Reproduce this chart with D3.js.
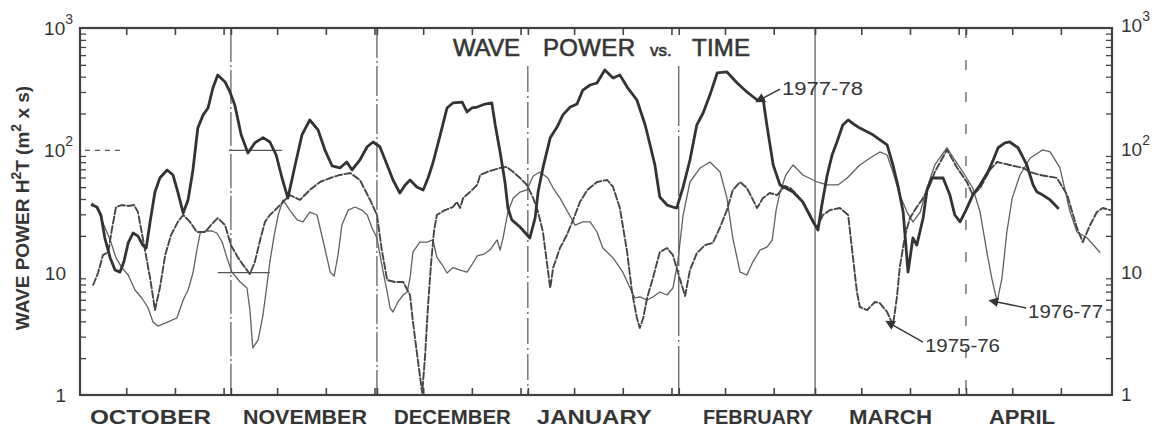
<!DOCTYPE html>
<html>
<head>
<meta charset="utf-8">
<script src="https://cdn.jsdelivr.net/npm/d3@7"></script>
<style>
  html, body { margin: 0; padding: 0; background: #fff; }
  svg { display: block; }
  text { font-family: "Liberation Sans", Arial, sans-serif; fill: #353535; }
</style>
</head>
<body>
<svg id="chart" width="1163" height="431"></svg>
<script>
// Season calendar (October 1 .. April 30)
const monthNames = ["OCTOBER", "NOVEMBER", "DECEMBER", "JANUARY", "FEBRUARY", "MARCH", "APRIL"];
const monthLengths = [31, 30, 31, 31, 28, 31, 30];
const decadeTicks = [1, 10, 100, 1000];
const seasonNames = ["1975-76", "1976-77", "1977-78"];

// [day since Oct 1, wave power H^2 T (m^2 x s)]
const season1975_76 = [
  [2.7,7.93],[3.7,9.93],[4.7,13.9],[5.8,14.7],[6.6,23.2],[7.4,34.4],[8.6,35.7],[9.9,35.1],[11.1,35.7],[11.9,31.3],
  [12.9,19.2],[14.4,9.04],[15.4,4.95],[16.4,7.49],[17.5,13.9],[18.7,20.3],[20.1,26.0],[21.2,29.6],[22.6,26.0],[24.0,21.5],
  [25.7,21.5],[26.9,24.5],[28.3,28.0],[29.8,24.5],[31.0,16.8],[32.5,13.2],[33.9,11.0],[34.9,9.74],[35.9,12.2],[37.0,18.5],
  [38.0,26.0],[39.0,29.6],[40.5,33.8],[41.7,37.8],[43.1,43.1],[45.2,39.3],[47.2,47.4],[49.3,55.1],[51.4,59.4],[53.4,62.9],
  [55.5,65.3],[57.5,57.2],[59.6,39.3],[61.0,29.6],[62.0,15.3],[63.1,8.71],[64.7,8.39],[66.4,8.39],[67.8,6.57],[68.4,3.95],
  [69.4,1.93],[70.3,1.04],[70.9,2.12],[71.5,5.44],[72.1,11.6],[72.7,21.5],[73.3,29.6],[75.0,32.5],[76.6,34.4],[77.4,37.8],
  [78.1,33.8],[78.7,40.7],[80.1,45.6],[81.6,52.1],[82.2,62.9],[83.6,66.5],[86.3,71.8],[87.7,73.1],[89.0,66.5],[90.4,59.4],
  [91.8,52.1],[93.1,40.7],[94.1,31.3],[95.1,21.5],[95.9,12.2],[96.6,7.49],[97.2,11.0],[98.6,15.9],[100.0,20.3],[101.3,27.0],
  [102.7,37.8],[104.2,47.4],[106.2,55.1],[108.3,57.2],[109.5,50.2],[110.9,33.8],[112.4,14.7],[113.4,6.95],[114.4,4.26],[115.0,3.53],
  [115.7,4.26],[116.5,6.21],[117.7,9.04],[119.1,14.7],[120.6,15.9],[121.8,13.9],[123.3,8.71],[124.3,6.45],[125.3,10.5],[126.7,14.4],
  [128.4,16.8],[130.0,17.5],[131.5,23.6],[132.9,32.5],[134.1,47.4],[135.6,55.1],[137.0,49.2],[139.1,33.8],[140.3,40.7],[141.7,44.8],
  [143.2,43.1],[144.8,51.1],[145.9,49.2],[147.3,43.1],[148.5,37.8],[150.0,29.6],[151.4,23.2],[152.6,29.6],[154.1,32.5],[156.1,33.8],
  [157.8,29.6],[158.8,13.2],[159.6,6.95],[160.2,5.24],[161.7,4.95],[163.3,5.76],[164.3,5.65],[165.8,4.77],[167.0,3.73],[167.8,6.21],
  [168.4,11.0],[169.5,20.3],[170.5,28.0],[171.9,34.4],[173.2,40.7],[174.6,52.1],[175.6,66.5],[178.1,101],[180.2,71.8],[182.2,55.1],
  [183.4,43.1],[184.9,49.2],[186.9,69.1],[188.4,80.3],[191.0,75.9],[193.7,71.8],[195.2,66.5],[197.2,62.9],[200.7,59.4],[202.8,43.1],
  [204.8,23.2],[206.0,17.8],[207.5,24.5],[208.9,31.3],[210.1,33.8],[211.6,32.5]
];

const season1976_77 = [
  [2.5,37.1],[3.7,32.5],[4.9,24.5],[6.2,18.5],[7.4,13.2],[8.6,11.0],[9.9,9.57],[11.3,7.22],[12.7,6.21],[14.0,5.14],
  [15.0,3.95],[16.0,3.66],[17.5,3.87],[18.9,4.10],[19.9,4.26],[21.2,5.98],[22.2,7.22],[23.2,9.93],[24.0,15.3],[24.7,21.1],
  [25.7,21.9],[27.1,21.9],[28.1,21.1],[29.2,17.8],[30.2,13.2],[31.2,10.1],[32.9,8.39],[34.3,7.49],[34.9,4.95],[35.5,2.43],
  [36.6,2.82],[37.6,4.51],[38.4,7.93],[39.0,12.2],[39.9,20.3],[40.7,29.6],[41.7,39.3],[43.1,32.5],[44.6,27.0],[45.8,26.0],
  [47.2,31.3],[48.7,29.6],[49.9,18.5],[51.4,10.1],[52.2,9.39],[53.0,13.9],[53.8,24.5],[55.1,32.5],[56.5,34.4],[57.9,32.5],
  [59.0,29.6],[60.0,23.2],[61.0,19.2],[62.0,11.6],[63.1,6.95],[63.7,5.14],[64.3,4.77],[65.3,5.76],[66.4,6.57],[67.2,6.95],
  [67.8,9.04],[68.4,14.7],[69.8,17.8],[71.3,17.8],[72.5,18.5],[73.3,13.4],[74.4,11.6],[75.4,9.93],[76.6,11.0],[78.1,10.5],
  [79.5,10.1],[80.5,11.6],[81.6,13.7],[83.0,14.2],[84.2,15.3],[85.7,18.5],[86.3,15.3],[86.9,19.2],[87.9,31.3],[89.0,40.7],
  [90.4,45.6],[91.8,47.4],[93.1,61.7],[94.5,66.5],[96.1,59.4],[97.2,49.2],[98.6,40.7],[100.2,31.3],[101.7,24.5],[103.3,26.0],
  [104.8,26.0],[106.2,21.5],[107.4,15.9],[109.5,13.2],[111.5,10.1],[113.0,7.49],[114.0,6.21],[115.0,6.33],[116.5,5.98],[117.7,6.33],
  [119.1,6.95],[120.6,6.57],[121.8,7.49],[122.8,12.2],[123.9,29.6],[125.3,55.1],[127.4,71.8],[129.4,80.3],[131.5,66.5],[132.9,40.7],
  [134.1,19.2],[135.6,10.1],[137.0,9.57],[138.2,12.2],[139.7,15.3],[141.1,16.2],[142.2,18.5],[143.0,32.5],[143.8,45.6],[145.0,62.9],
  [146.5,75.9],[148.5,62.9],[151.4,55.1],[153.5,52.1],[155.7,52.1],[157.6,59.4],[158.8,66.5],[160.2,75.9],[162.3,86.5],[164.3,97],
  [165.8,91.6],[167.0,66.5],[168.4,43.1],[169.9,31.3],[171.1,26.0],[172.6,31.3],[174.0,49.2],[175.6,75.9],[178.1,105],[179.7,83.4],
  [181.4,66.5],[183.4,49.2],[184.9,31.3],[186.3,14.7],[187.3,9.04],[188.4,5.76],[189.4,9.04],[190.4,21.5],[191.5,40.7],[193.1,62.9],
  [195.2,86.5],[197.8,101],[199.3,97],[201.3,71.8],[203.4,31.3],[204.8,21.5],[206.9,19.2],[209.5,14.7]
];

const season1977_78 = [
  [2.5,35.7],[3.5,34.4],[4.3,29.6],[5.1,19.2],[6.2,13.2],[7.2,10.5],[8.2,10.1],[9.0,12.2],[9.9,17.5],[10.9,21.1],
  [11.9,19.9],[12.9,16.8],[13.6,15.9],[14.4,26.0],[15.4,45.6],[16.4,59.4],[17.9,69.1],[19.1,62.9],[20.1,45.6],[21.2,30.7],
  [22.2,39.3],[23.2,69.1],[24.2,152],[25.3,195],[26.3,222],[27.3,323],[28.3,413],[29.8,362],[30.8,300],[31.8,235],
  [33.1,134],[34.5,95],[35.9,115],[37.6,127],[39.0,117],[40.3,91.6],[41.5,59.4],[42.7,40.7],[44.2,75.9],[45.6,134],
  [47.2,177],[48.9,147],[50.3,101],[51.8,74.5],[53.4,71.8],[54.8,80.3],[55.9,69.1],[57.5,83.4],[59.0,107],[60.2,117],
  [61.6,107],[63.1,75.9],[64.3,57.2],[65.7,44.8],[66.8,52.1],[67.8,57.2],[69.2,50.2],[70.5,47.4],[71.5,59.4],[72.5,78.8],
  [74.0,134],[75.4,222],[76.6,244],[78.5,248],[79.5,206],[80.5,222],[81.6,226],[83.2,239],[84.6,244],[85.3,161],
  [86.3,97],[87.3,55.1],[87.9,33.8],[88.7,27.0],[90.4,23.6],[92.4,19.2],[93.5,28.0],[94.1,45.6],[95.1,71.8],[96.6,127],
  [98.0,155],[99.2,195],[100.7,226],[102.1,239],[103.3,311],[104.8,342],[106.2,355],[107.8,454],[109.5,390],[110.9,413],
  [112.4,329],[114.4,258],[116.1,161],[117.1,111],[118.1,75.9],[119.1,41.5],[120.6,35.7],[121.8,34.4],[122.6,33.8],[123.9,50.2],
  [125.3,83.4],[126.7,161],[128.0,202],[129.4,283],[130.9,429],[132.9,437],[135.0,355],[137.0,300],[139.1,258],[140.3,267],
  [141.1,161],[142.4,75.9],[143.8,52.1],[146.5,45.6],[148.5,37.8],[150.6,26.0],[151.6,22.3],[152.4,35.7],[153.5,62.9],[154.5,91.6],
  [155.5,117],[156.7,161],[157.8,177],[159.2,161],[160.2,152],[162.9,134],[165.8,111],[167.0,75.9],[168.0,52.1],[169.1,31.3],
  [170.1,10.1],[171.1,19.2],[171.9,16.8],[173.2,28.0],[174.0,47.4],[175.0,59.4],[177.3,59.4],[178.7,43.1],[179.7,29.6],[180.8,26.0],
  [182.0,32.5],[183.4,43.1],[184.9,52.1],[186.5,66.5],[187.6,83.4],[188.6,105],[190.0,115],[191.0,117],[192.7,105],[194.5,75.9],
  [195.8,52.1],[196.6,45.6],[197.8,43.1],[199.3,39.3],[200.9,33.8]
];

// ---- layout ----
const W = 1163, H = 431;
const plot = { left: 80, right: 1112, top: 28, bottom: 395 };
const ink = "#3a3a3a";

const svg = d3.select("#chart");
svg.append("rect").attr("width", W).attr("height", H).attr("fill", "#fff");

const monthStarts = [0, ...d3.cumsum(monthLengths)];
const seasonDays = monthStarts[monthStarts.length - 1];

const x = d3.scaleLinear().domain([0, seasonDays]).range([plot.left, plot.right]);
const y = d3.scaleLog().domain([1, 1000]).range([plot.bottom, plot.top]);

// Tick marks on the 10th, 20th and 30th of each month plus month boundaries
const tickDays = [];
monthLengths.forEach((len, i) => {
  const s = monthStarts[i];
  [9.5, 19.5, 29.5].forEach(o => { if (o < len && s + o < seasonDays - 1) tickDays.push(s + o); });
  if (i > 0) tickDays.push(s);
});

const yMinor = [1, 10, 100].flatMap(d => d3.range(2, 10).map(k => k * d));

function styleAxis(g, w) {
  g.select(".domain").remove();
  g.selectAll("line").attr("stroke", "#454545").attr("stroke-width", w);
}

// month vertical rules
const ruleStyles = [
  null,
  { top: plot.top, dash: "34,3,2,3" },
  { top: plot.top, dash: "30,3,2,3" },
  { top: 66, dash: "26,4,2,4" },
  { top: 66, dash: "60,4,2,4" },
  { top: plot.top, dash: null },
  { top: plot.top, dash: "10,22" }
];
monthStarts.slice(1, -1).forEach((d, i) => {
  const st = ruleStyles[i + 1];
  svg.append("line")
    .attr("x1", x(d)).attr("x2", x(d))
    .attr("y1", st.top).attr("y2", plot.bottom)
    .attr("stroke", "#555").attr("stroke-width", 1.2)
    .attr("stroke-dasharray", st.dash);
});

// short grid fragments at 10 and 100
const gridBits = [
  { v: 100, d0: 1.0, d1: 9.2, dash: "5,5" },
  { v: 100, d0: 30.6, d1: 41.5, dash: null },
  { v: 10, d0: 28.3, d1: 39.0, dash: null }
];
gridBits.forEach(b => {
  svg.append("line")
    .attr("x1", x(b.d0)).attr("x2", x(b.d1))
    .attr("y1", y(b.v)).attr("y2", y(b.v))
    .attr("stroke", "#555").attr("stroke-width", 1.2)
    .attr("stroke-dasharray", b.dash);
});

// axes
svg.append("g").attr("transform", `translate(0,${plot.bottom})`)
  .call(d3.axisBottom(x).tickValues(tickDays).tickSize(-7).tickFormat(""))
  .call(g => styleAxis(g, 1.6));
svg.append("g").attr("transform", `translate(0,${plot.top})`)
  .call(d3.axisTop(x).tickValues(tickDays).tickSize(-7).tickFormat(""))
  .call(g => styleAxis(g, 1.6));
svg.append("g").attr("transform", `translate(${plot.left},0)`)
  .call(d3.axisLeft(y).tickValues(yMinor).tickSize(-6).tickFormat(""))
  .call(g => styleAxis(g, 1.3));
svg.append("g").attr("transform", `translate(${plot.right},0)`)
  .call(d3.axisRight(y).tickValues(yMinor).tickSize(-6).tickFormat(""))
  .call(g => styleAxis(g, 1.3));

// frame
svg.append("rect")
  .attr("x", plot.left).attr("y", plot.top)
  .attr("width", plot.right - plot.left).attr("height", plot.bottom - plot.top)
  .attr("fill", "none").attr("stroke", "#404040").attr("stroke-width", 2.2);

// decade labels, both sides
function decadeLabel(sel, v) {
  const p = Math.round(Math.log10(v));
  if (p === 0) { sel.append("tspan").text("1"); return; }
  sel.append("tspan").text("10");
  if (p > 1) sel.append("tspan").attr("dy", -11).attr("font-size", 14).text(String(p));
}
decadeTicks.forEach(v => {
  const p = Math.round(Math.log10(v));
  const left = svg.append("text")
    .attr("x", p > 1 ? 73 : 66).attr("y", y(v) + 7)
    .attr("text-anchor", "end").attr("font-size", 19);
  decadeLabel(left, v);
  const right = svg.append("text")
    .attr("x", 1121).attr("y", y(v) + (p === 3 ? 4 : 6))
    .attr("font-size", 19);
  decadeLabel(right, v);
});

// series
const line = d3.line().x(d => x(d[0])).y(d => y(d[1]));
const seriesStyles = [
  { name: seasonNames[1], data: season1976_77, width: 1.3, color: "#606060", dash: null },
  { name: seasonNames[0], data: season1975_76, width: 1.9, color: "#454545", dash: "7,2.5" },
  { name: seasonNames[2], data: season1977_78, width: 2.8, color: "#333", dash: null }
];
seriesStyles.forEach(s => {
  svg.append("path").datum(s.data)
    .attr("d", line)
    .attr("fill", "none")
    .attr("stroke", s.color)
    .attr("stroke-width", s.width)
    .attr("stroke-linejoin", "round")
    .attr("stroke-linecap", "round")
    .attr("stroke-dasharray", s.dash);
});

// series labels with leaders
svg.append("defs").append("marker")
  .attr("id", "tip").attr("viewBox", "0 0 10 10")
  .attr("refX", 1).attr("refY", 5)
  .attr("markerWidth", 7).attr("markerHeight", 7)
  .attr("orient", "auto-start-reverse")
  .append("path").attr("d", "M0,0 L10,5 L0,10 z").attr("fill", "#333");

const callouts = [
  { name: seasonNames[2], data: season1977_78, day: 140.3, dx: 17, dy: -9, tx: 19, ty: -3, len: 81 },
  { name: seasonNames[0], data: season1975_76, day: 167.0, dx: 30, dy: 17, tx: 32, ty: 27, len: 75 },
  { name: seasonNames[1], data: season1976_77, day: 188.4, dx: 29, dy: 6, tx: 31, ty: 16, len: 75 }
];
callouts.forEach(c => {
  const pt = c.data.find(d => d[0] === c.day);
  const ax = x(pt[0]), ay = y(pt[1]);
  svg.append("line")
    .attr("x1", ax).attr("y1", ay)
    .attr("x2", ax + c.dx).attr("y2", ay + c.dy)
    .attr("stroke", "#333").attr("stroke-width", 1.4)
    .attr("marker-start", "url(#tip)");
  svg.append("text")
    .attr("x", ax + c.tx).attr("y", ay + c.ty)
    .attr("font-size", 18)
    .attr("textLength", c.len).attr("lengthAdjust", "spacingAndGlyphs")
    .text(c.name);
});

// month names below the axis
const monthLabelNudge = [-5, 1, 0, -9, 11, 0, -17];
const monthLabelWidth = [121, 124, 117, 115, 110, 83, 66];
monthNames.forEach((m, i) => {
  const mid = monthStarts[i] + monthLengths[i] / 2;
  const cx = x(mid) + monthLabelNudge[i];
  svg.append("text")
    .attr("x", cx - monthLabelWidth[i] / 2).attr("y", 424)
    .attr("font-size", 21).attr("font-weight", "bold")
    .attr("textLength", monthLabelWidth[i]).attr("lengthAdjust", "spacingAndGlyphs")
    .text(m);
});

// title
const title = svg.append("text").attr("y", 56).attr("font-size", 24)
  .attr("stroke", "#353535").attr("stroke-width", 0.6);
title.append("tspan").attr("x", 453).attr("textLength", 67).text("WAVE");
title.append("tspan").attr("x", 543).attr("textLength", 92).text("POWER");
title.append("tspan").attr("x", 650).attr("font-size", 17).text("vs.");
title.append("tspan").attr("x", 692).attr("textLength", 58).text("TIME");

// y-axis title
const yTitle = svg.append("text")
  .attr("transform", "translate(29,208) rotate(-90)")
  .attr("text-anchor", "middle")
  .attr("font-size", 19).attr("font-weight", "bold");
yTitle.append("tspan").text("WAVE POWER H");
yTitle.append("tspan").attr("dy", -8).attr("font-size", 14).text("2");
yTitle.append("tspan").attr("dy", 8).text("T (m");
yTitle.append("tspan").attr("dy", -8).attr("font-size", 14).text("2");
yTitle.append("tspan").attr("dy", 8).text(" x s)");
</script>
</body>
</html>
